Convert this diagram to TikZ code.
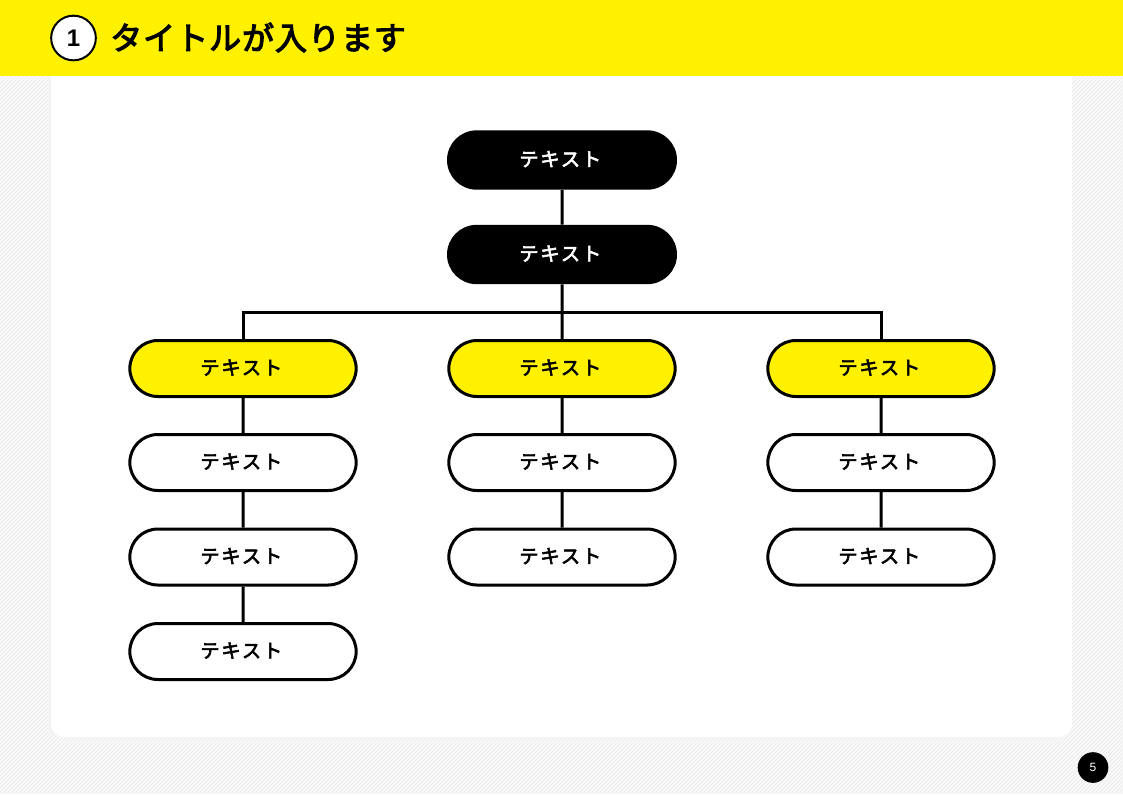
\documentclass[tikz,border=0pt]{standalone}
\usepackage{fontspec}
\setmainfont{Noto Sans CJK JP}
\newfontfamily\numfont{Liberation Sans}
\newfontfamily\pillfont[FakeBold=3,LetterSpace=9]{Noto Sans CJK JP}
\newfontfamily\titlefont[FakeBold=3.5,LetterSpace=3]{Noto Sans CJK JP}
\usetikzlibrary{patterns}
\usetikzlibrary{shapes.misc}

\definecolor{headyellow}{HTML}{FFF100}
\definecolor{stripegray}{HTML}{F1F1F1}

\newcommand{\pilltext}{\hspace*{-2.6pt}\raisebox{2.1pt}{テキスト}}

\tikzset{
    pill/.style={rounded rectangle, minimum width=169.75pt, minimum height=42pt, inner sep=0pt, text=black, font=\pillfont\fontsize{14.5pt}{14.5pt}\selectfont},
    pillblack/.style={pill, fill=black, text=white, minimum width=172.5pt, minimum height=44.5pt},
    pillyellow/.style={pill, draw=black, line width=2.25pt, fill=headyellow},
    pillwhite/.style={pill, draw=black, line width=2.25pt, fill=white},
    conn/.style={draw=black, line width=2.25pt}
}

\begin{document}
\begin{tikzpicture}[x=.75pt,y=-.75pt]
\useasboundingbox (0,0) rectangle (1123,794);

% background
\fill[stripegray] (0,0) rectangle (1123,794);
\fill[pattern color=white,pattern=north east lines] (0,0) rectangle (1123,794);
\fill[white,rounded corners=10pt] (51,40) rectangle (1072,737);

% header
\fill[headyellow] (0,0) rectangle (1123,76);
\node[circle, draw=black, fill=white, line width=1.5pt, minimum size=33.5pt, inner sep=0pt, font=\numfont\bfseries\fontsize{18pt}{18pt}\selectfont] (num) at (73.5,38) {1};
\node[anchor=west, inner sep=0pt, font=\titlefont\fontsize{24pt}{24pt}\selectfont] (title) at (110,37.5) {タイトルが入ります};

% page number
\node[circle, fill=black, text=white, minimum size=23pt, inner sep=0pt, font=\numfont\fontsize{9pt}{9pt}\selectfont] (page) at (1093,767.5) {5};

% top
\node[pillblack] (top) at (562,160) {\pilltext};
\node[pillblack] (second) at (562,254.5) {\pilltext};
\coordinate (bus) at (562,312);

% column heads
\node[pillyellow] (headA) at (243,368.5) {\pilltext};
\node[pillyellow] (headB) at (562,368.5) {\pilltext};
\node[pillyellow] (headC) at (881,368.5) {\pilltext};

% column items
\node[pillwhite] (itemAa) at (243,462.5) {\pilltext};
\node[pillwhite] (itemAb) at (243,557) {\pilltext};
\node[pillwhite] (itemAc) at (243,651.5) {\pilltext};
\node[pillwhite] (itemBa) at (562,462.5) {\pilltext};
\node[pillwhite] (itemBb) at (562,557) {\pilltext};
\node[pillwhite] (itemCa) at (881,462.5) {\pilltext};
\node[pillwhite] (itemCb) at (881,557) {\pilltext};

% connectors
\draw[conn] (top) -- (second);
\draw[conn] (second) -- (headB);
\draw[conn] (headA.north) |- (bus) -| (headC.north);

\draw[conn] (headA) -- (itemAa);
\draw[conn] (itemAa) -- (itemAb);
\draw[conn] (itemAb) -- (itemAc);
\draw[conn] (headB) -- (itemBa);
\draw[conn] (itemBa) -- (itemBb);
\draw[conn] (headC) -- (itemCa);
\draw[conn] (itemCa) -- (itemCb);

\end{tikzpicture}
\end{document}
